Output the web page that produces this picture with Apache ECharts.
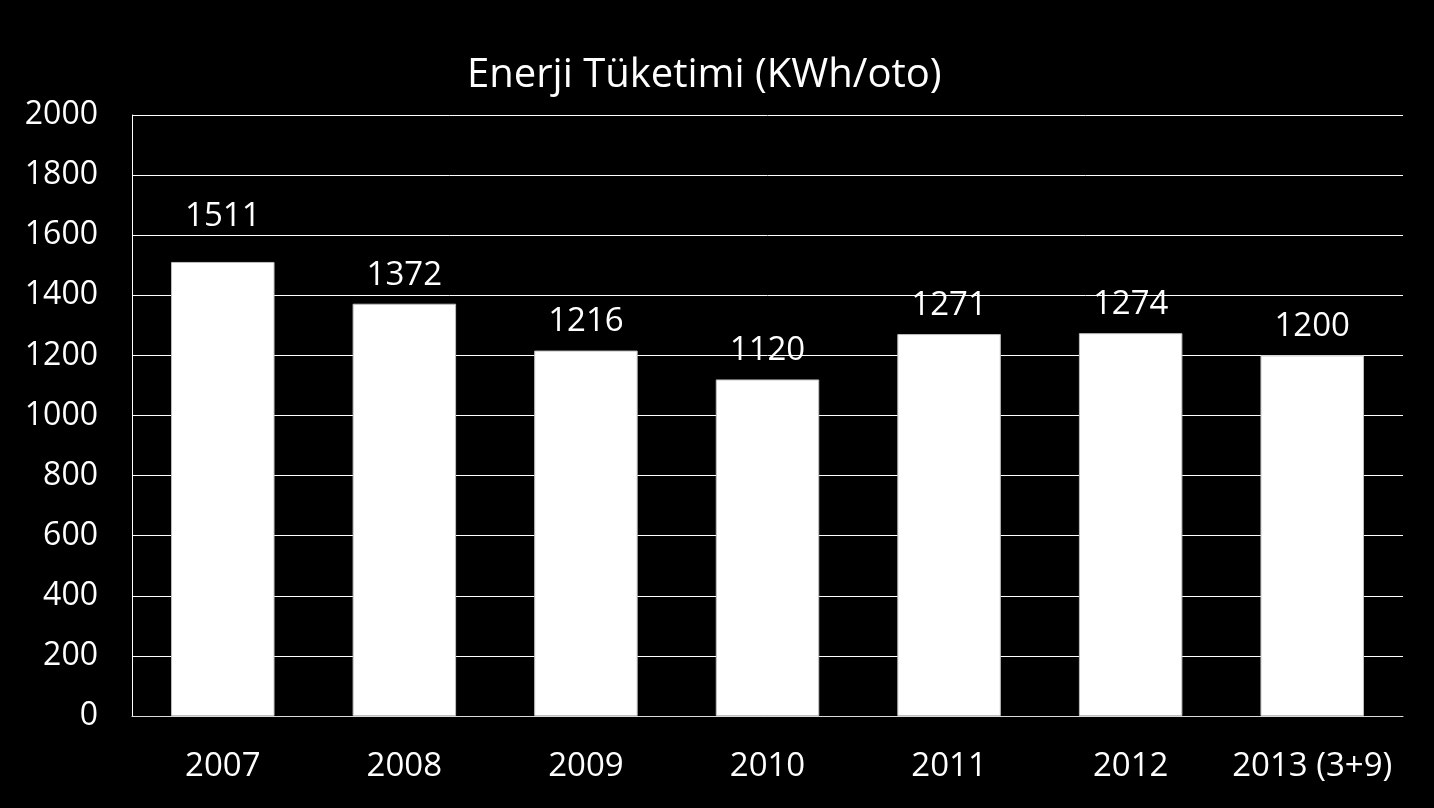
<!DOCTYPE html>
<html>
<head>
<meta charset="utf-8">
<script src="https://cdn.jsdelivr.net/npm/echarts@6/dist/echarts.min.js"></script>
<style>
html,body{margin:0;padding:0;background:#000;}
#c{width:1434px;height:808px;}
</style>
</head>
<body>
<div id="c"></div>
<script>
const titleText = 'Enerji Tüketimi (KWh/oto)';
const categories = ['2007', '2008', '2009', '2010', '2011', '2012', '2013 (3+9)'];
const values = [1511, 1372, 1216, 1120, 1271, 1274, 1200];
const yTicks = [0, 200, 400, 600, 800, 1000, 1200, 1400, 1600, 1800, 2000];

const FONT = '"Open Sans", Calibri, sans-serif';
const chart = echarts.init(document.getElementById('c'));
const seriesData = values.map((v, i) => i === 0 ? { value: v, label: { distance: 29 } } : v);

chart.setOption({
  backgroundColor: '#000',
  animation: false,
  title: {
    text: titleText,
    left: 462,
    top: 51,
    textStyle: { color: '#fff', fontSize: 40, fontWeight: 'normal', fontFamily: FONT }
  },
  grid: { left: 132, right: 31, top: 115, bottom: 92 },
  xAxis: {
    type: 'category',
    data: categories,
    axisLine: { show: true, lineStyle: { color: '#d9d9d9', width: 1 } },
    axisTick: { show: false },
    axisLabel: { color: '#fff', fontSize: 33, fontFamily: FONT, margin: 34, interval: 0 }
  },
  yAxis: {
    type: 'value',
    min: yTicks[0],
    max: yTicks[yTicks.length - 1],
    interval: 200,
    axisLine: { show: true, lineStyle: { color: '#fff', width: 1 } },
    axisTick: { show: false },
    splitLine: { show: true, lineStyle: { color: '#fff', width: 1 } },
    axisLabel: { color: '#fff', fontSize: 32, fontFamily: FONT, margin: 34, formatter: v => String(v) }
  },
  series: [{
    type: 'bar',
    data: seriesData,
    barWidth: '57%',
    itemStyle: { color: '#fff', borderColor: '#bfbfbf', borderWidth: 1 },
    label: {
      show: true,
      position: 'top',
      distance: 12,
      color: '#fff',
      fontSize: 33,
      fontFamily: FONT
    }
  }]
});
</script>
</body>
</html>
